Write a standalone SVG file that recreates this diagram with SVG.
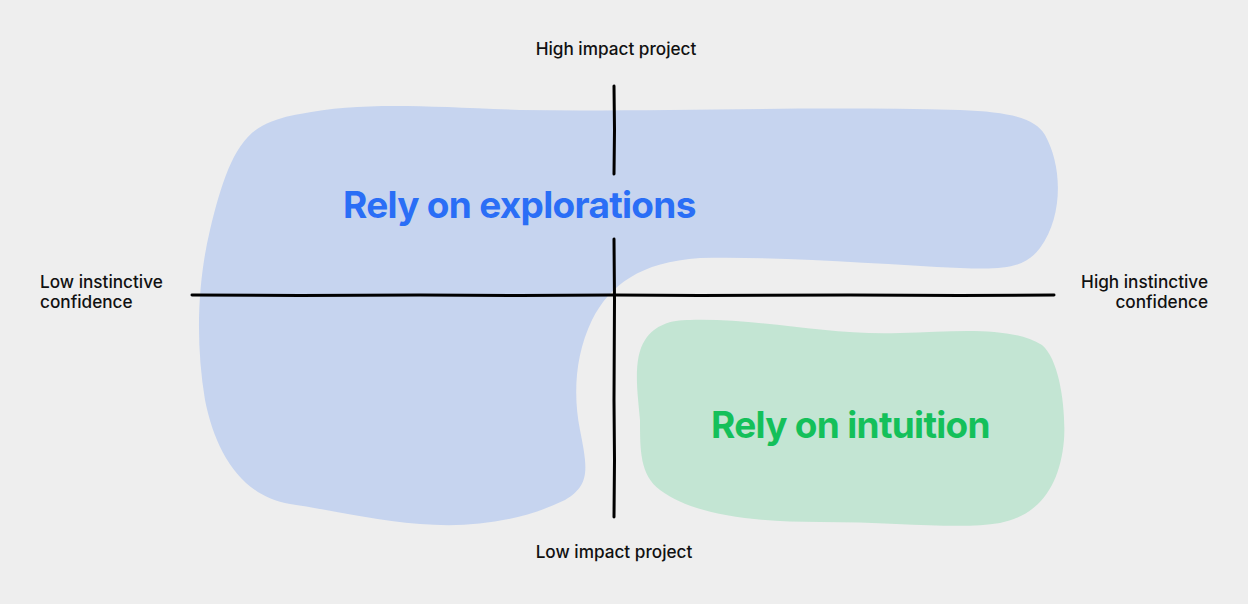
<svg xmlns="http://www.w3.org/2000/svg" width="1248" height="604" viewBox="0 0 1248 604">
<style>
.lbl{font-family:Inter,"Noto Sans",sans-serif;font-size:17.2px;font-weight:500;fill:#111;}
.big{font-family:Inter,"Liberation Sans",sans-serif;font-weight:700;font-size:37px;letter-spacing:-0.7px;}
.axis{fill:none;stroke:#000;stroke-width:3;stroke-linecap:round;stroke-linejoin:round;}
</style>
<rect width="1248" height="604" fill="#eeeeee"/>
<g id="explorations">
<path fill="#c6d4ef" d="M300,114 C360,102 420,106 520,110 C650,112 800,106 960,110 C1010,112 1035,118 1045,135 C1062,165 1064,215 1040,248 C1025,268 1005,270 960,268 C880,264 780,256 700,258 C640,262 610,285 592,320 C575,355 573,395 580,430 C588,470 590,485 565,500 C520,522 470,528 420,524 C370,520 320,508 290,504 C240,496 215,450 205,400 C195,340 198,280 210,230 C222,180 235,140 262,126 C275,119 288,116 300,114 Z"/>
<text class="big" x="343" y="218" fill="#2a6ef6">Rely on explorations</text>
</g>
<g id="intuition">
<path fill="#c3e5d3" d="M690,320 C760,318 830,336 900,333 C960,331 1010,326 1042,345 C1060,360 1066,410 1064,440 C1060,485 1040,515 1000,523 C960,530 900,522 820,522 C740,522 690,512 660,490 C640,475 640,450 640,420 C638,395 632,360 645,340 C655,325 670,320 690,320 Z"/>
<text class="big" x="711" y="438" fill="#14c05a">Rely on intuition</text>
</g>
<g id="axes">
<path class="axis" d="M614,86 L614.5,130 L614,174"/>
<path class="axis" d="M614,239 L614.5,300 L614,400 L614.5,460 L614,517"/>
<path class="axis" d="M192,295 L300,295.5 L420,295 L520,295.5 L614,295 L700,295.5 L850,295 L960,295.5 L1054,295"/>
</g>
<g id="labels">
<text class="lbl" x="616" y="55" text-anchor="middle">High impact project</text>
<text class="lbl" x="614" y="558" text-anchor="middle">Low impact project</text>
<text class="lbl" x="40" y="288">Low instinctive</text>
<text class="lbl" x="40" y="308">confidence</text>
<text class="lbl" x="1208" y="288" text-anchor="end">High instinctive</text>
<text class="lbl" x="1208" y="308" text-anchor="end">confidence</text>
</g>
</svg>
